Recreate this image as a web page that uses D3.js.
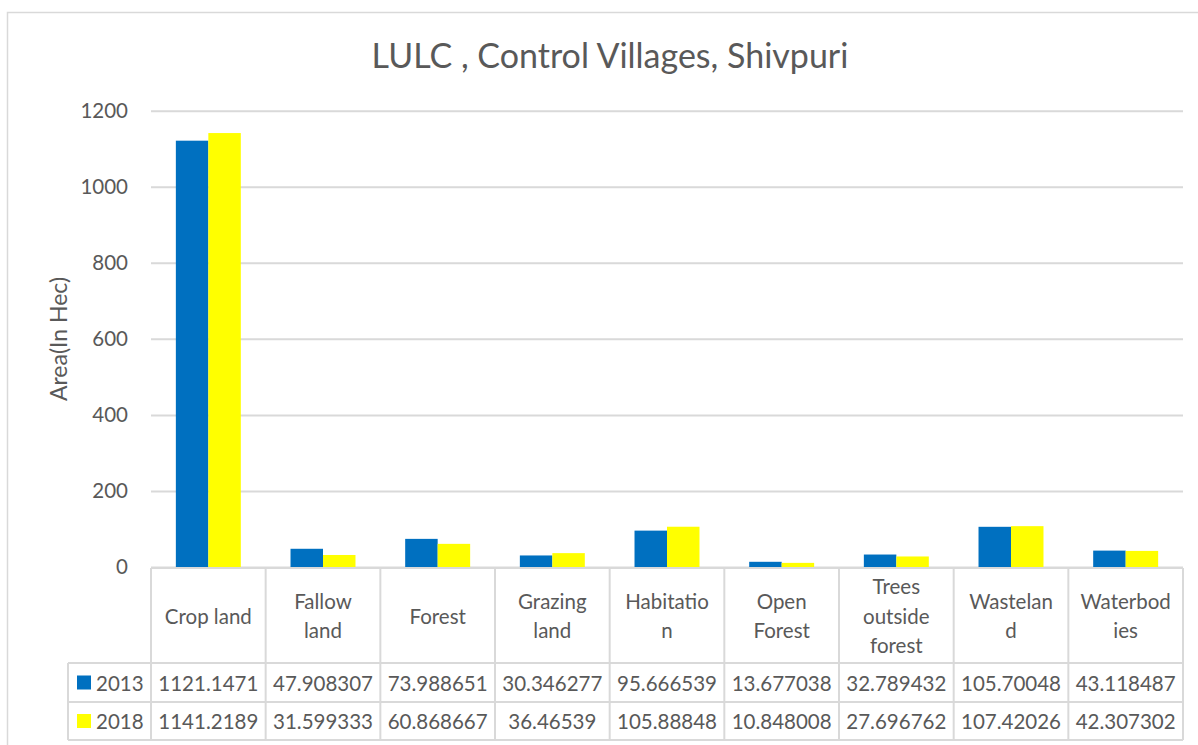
<!DOCTYPE html>
<html>
<head>
<meta charset="utf-8">
<script src="https://cdn.jsdelivr.net/npm/d3@7"></script>
<style>
  html, body { margin: 0; padding: 0; background: #fff; }
  svg { display: block; }
  text { font-family: Lato, "Open Sans", sans-serif; fill: #595959; }
</style>
</head>
<body>
<svg id="chart" width="1198" height="745"></svg>
<script>
// LULC areas (hectares) for the control villages of Shivpuri
const categories = ["Crop land", "Fallow land", "Forest", "Grazing land", "Habitation",
                    "Open Forest", "Trees outside forest", "Wasteland", "Waterbodies"];
// Header text as it wraps inside the data-table cells
const categoryLines = [["Crop land"], ["Fallow", "land"], ["Forest"], ["Grazing", "land"],
                       ["Habitatio", "n"], ["Open", "Forest"], ["Trees", "outside", "forest"],
                       ["Wastelan", "d"], ["Waterbod", "ies"]];
const seriesNames = ["2013", "2018"];
const values2013 = [1121.1471, 47.908307, 73.988651, 30.346277, 95.666539,
                    13.677038, 32.789432, 105.70048, 43.118487];
const values2018 = [1141.2189, 31.599333, 60.868667, 36.46539, 105.88848,
                    10.848008, 27.696762, 107.42026, 42.307302];
// Cell text in the data table, as printed
const labels2013 = ["1121.1471", "47.908307", "73.988651", "30.346277", "95.666539",
                    "13.677038", "32.789432", "105.70048", "43.118487"];
const labels2018 = ["1141.2189", "31.599333", "60.868667", "36.46539", "105.88848",
                    "10.848008", "27.696762", "107.42026", "42.307302"];
const yTicks = [0, 200, 400, 600, 800, 1000, 1200];

const colors = { "2013": "#0070C0", "2018": "#FFFF00" };
const gridColor = "#D9D9D9";

const svg = d3.select("#chart");

// outer chart frame
svg.append("rect")
  .attr("x", 7.5).attr("y", 12.5)
  .attr("width", 1206).attr("height", 760)
  .attr("fill", "none").attr("stroke", gridColor).attr("stroke-width", 1.5);

// title
svg.append("text")
  .attr("x", 610).attr("y", 68)
  .attr("text-anchor", "middle")
  .attr("font-size", 34)
  .text("LULC , Control Villages, Shivpuri");

const plotLeft = 151, plotRight = 1183;
const y = d3.scaleLinear().domain([0, 1200]).range([567, 110.7]);
const x0 = d3.scaleBand().domain(categories).range([plotLeft, plotRight]).padding(0);
const x1 = d3.scaleBand().domain(seriesNames).range([0, x0.bandwidth()])
  .paddingInner(0).paddingOuter(0.765);

// gridlines + y tick labels via axis
const yAxis = d3.axisLeft(y).tickValues(yTicks).tickSize(-(plotRight - plotLeft)).tickPadding(23)
  .tickFormat(d3.format("d"));
const gy = svg.append("g").attr("transform", `translate(${plotLeft},0)`).call(yAxis);
gy.select(".domain").remove();
gy.selectAll(".tick line").attr("stroke", gridColor).attr("stroke-width", 2);
gy.selectAll(".tick text").attr("font-size", 20.5).attr("fill", "#595959")
  .attr("font-family", "Lato, 'Open Sans', sans-serif");

// y axis title
svg.append("text")
  .attr("transform", "translate(67,339) rotate(-90)")
  .attr("text-anchor", "middle")
  .attr("font-size", 23)
  .text("Area(In Hec)");

// bars
const rows = categories.map((c, i) => ({ cat: c, vals: [values2013[i], values2018[i]] }));
const groups = svg.append("g").selectAll("g").data(rows).join("g")
  .attr("transform", d => `translate(${x0(d.cat)},0)`);
groups.selectAll("rect").data(d => seriesNames.map((s, j) => ({ s, v: d.vals[j] })))
  .join("rect")
  .attr("x", d => x1(d.s))
  .attr("width", x1.bandwidth())
  .attr("y", d => y(d.v))
  .attr("height", d => y(0) - y(d.v))
  .attr("fill", d => colors[d.s]);

// data table
const tTop = 568, tHeader = 663, tRow1 = 702, tBottom = 740, legLeft = 68;
const tbl = svg.append("g").attr("stroke", gridColor).attr("stroke-width", 2);
tbl.append("line").attr("x1", plotLeft).attr("x2", plotRight).attr("y1", tTop).attr("y2", tTop);
[tHeader, tRow1, tBottom].forEach(yy =>
  tbl.append("line").attr("x1", legLeft).attr("x2", plotRight).attr("y1", yy).attr("y2", yy));
const colEdges = categories.map(c => x0(c)).concat([plotRight]);
colEdges.forEach(xx =>
  tbl.append("line").attr("x1", xx).attr("x2", xx).attr("y1", tTop).attr("y2", tBottom));
tbl.append("line").attr("x1", legLeft).attr("x2", legLeft).attr("y1", tHeader).attr("y2", tBottom);

// header labels
const headerMid = (tTop + tHeader) / 2, lineH = 29.5;
categories.forEach((c, i) => {
  const lines = categoryLines[i];
  const t = svg.append("text")
    .attr("text-anchor", "middle")
    .attr("font-size", 20.5)
    .attr("dominant-baseline", "central");
  lines.forEach((ln, k) => {
    t.append("tspan")
      .attr("x", x0(c) + x0.bandwidth() / 2)
      .attr("y", headerMid + (k - (lines.length - 1) / 2) * lineH)
      .text(ln);
  });
});

// value rows with legend keys
const rowSpecs = [
  { name: "2013", labels: labels2013, top: tHeader, bottom: tRow1 },
  { name: "2018", labels: labels2018, top: tRow1, bottom: tBottom }
];
rowSpecs.forEach(r => {
  const mid = (r.top + r.bottom) / 2;
  svg.append("rect").attr("x", 77).attr("y", mid - 7).attr("width", 14).attr("height", 14)
    .attr("fill", colors[r.name]);
  svg.append("text").attr("x", 96).attr("y", mid).attr("dominant-baseline", "central")
    .attr("font-size", 20.5).text(r.name);
  categories.forEach((c, i) => {
    svg.append("text")
      .attr("x", x0(c) + x0.bandwidth() / 2).attr("y", mid)
      .attr("text-anchor", "middle").attr("dominant-baseline", "central")
      .attr("font-size", 20.5)
      .text(r.labels[i]);
  });
});
</script>
</body>
</html>
